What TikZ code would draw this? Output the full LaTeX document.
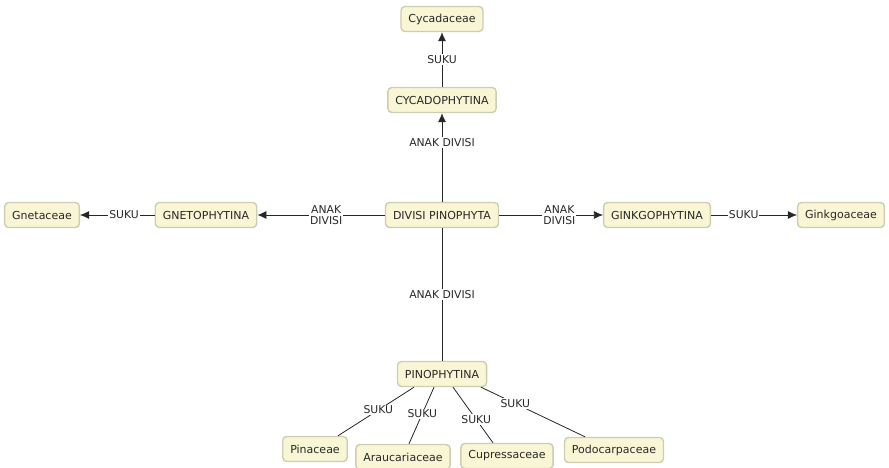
\documentclass[tikz,border=0pt]{standalone}
\usepackage{fontspec}
\setmainfont{DejaVu Sans}
\usetikzlibrary{arrows.meta}

\definecolor{boxfill}{RGB}{248,246,212}
\definecolor{boxline}{RGB}{206,204,178}
\definecolor{txtgray}{RGB}{40,40,40}

\tikzset{
  taxon/.style={draw=boxline,line width=1.4pt,fill=boxfill,rounded corners=4pt,
    minimum height=25pt,inner xsep=7.5pt,text=txtgray,font=\fontsize{11}{12}\selectfont},
  link/.style={draw=black!85,line width=0.8pt},
  arr/.style={link,-{Latex[length=9pt,width=8pt]}},
  lbl/.style={fill=white,inner sep=1pt,text=txtgray,align=center,
    font=\fontsize{10.8}{11.5}\selectfont}
}

\begin{document}
\begin{tikzpicture}[x=1pt,y=-1pt]
        \useasboundingbox (0,0) rectangle (889,468);

        % Divisi dan anak divisi
        \node[taxon] (pinophyta) at (442,215) {DIVISI PINOPHYTA};
        \node[taxon] (cycado) at (442,100) {CYCADOPHYTINA};
        \node[taxon] (gneto) at (206,215) {GNETOPHYTINA};
        \node[taxon] (ginkgo) at (657,215) {GINKGOPHYTINA};
        \node[taxon] (pinophytina) at (442,374) {PINOPHYTINA};

        % Suku
        \node[taxon] (cycadaceae) at (442,19) {Cycadaceae};
        \node[taxon] (gnetaceae) at (42,215) {Gnetaceae};
        \node[taxon] (ginkgoaceae) at (841,215) {Ginkgoaceae};
        \node[taxon] (pinaceae) at (315,449) {Pinaceae};
        \node[taxon] (araucariaceae) at (403,457) {Araucariaceae};
        \node[taxon] (cupressaceae) at (507,456) {Cupressaceae};
        \node[taxon] (podocarpaceae) at (614,450) {Podocarpaceae};

        % Anak divisi
        \draw[arr] (pinophyta) -- node[lbl,pos=0.67] (l1) {ANAK DIVISI} (cycado);
        \draw[arr] (pinophyta) -- node[lbl,pos=0.46] (l2) {ANAK\\DIVISI} (gneto);
        \draw[arr] (pinophyta) -- node[lbl,pos=0.58] (l3) {ANAK\\DIVISI} (ginkgo);
        \draw[link] (pinophyta) -- node[lbl,pos=0.5] (l4) {ANAK DIVISI} (pinophytina);

        % Suku dari tiap anak divisi
        \draw[arr] (cycado) -- node[lbl,pos=0.5] (s1) {SUKU} (cycadaceae);
        \draw[arr] (gneto) -- node[lbl,pos=0.41] (s2) {SUKU} (gnetaceae);
        \draw[arr] (ginkgo) -- node[lbl,pos=0.38] (s3) {SUKU} (ginkgoaceae);
        \draw[link] ([xshift=-28pt]pinophytina.south) -- node[lbl,pos=0.47] (s4) {SUKU}
            ([xshift=23pt]pinaceae.north);
        \draw[link] ([xshift=-8pt]pinophytina.south) -- node[lbl,pos=0.47] (s5) {SUKU}
            ([xshift=6pt]araucariaceae.north);
        \draw[link] ([xshift=11pt]pinophytina.south) -- node[lbl,pos=0.58] (s6) {SUKU}
            ([xshift=-14pt]cupressaceae.north);
        \draw[link] ([xshift=39pt]pinophytina.south) -- node[lbl,pos=0.33] (s7) {SUKU}
            ([xshift=-29pt]podocarpaceae.north);
\end{tikzpicture}
\end{document}
